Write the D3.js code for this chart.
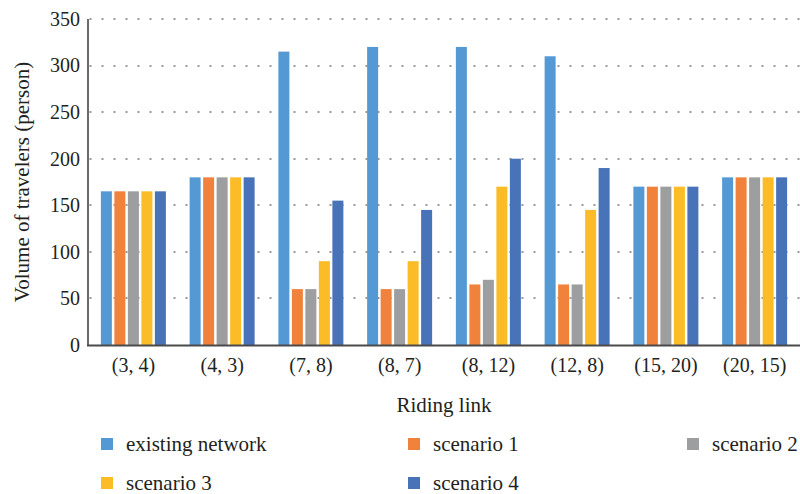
<!DOCTYPE html>
<html>
<head>
<meta charset="utf-8">
<script src="https://cdn.jsdelivr.net/npm/d3@7"></script>
<style>
  html, body { margin: 0; padding: 0; background: #fff; }
</style>
</head>
<body>
<svg id="chart" width="800" height="494"></svg>
<script>
// Riding links on the x axis
const links = ["(3, 4)", "(4, 3)", "(7, 8)", "(8, 7)", "(8, 12)", "(12, 8)", "(15, 20)", "(20, 15)"];

// Series names
const seriesNames = ["existing network", "scenario 1", "scenario 2", "scenario 3", "scenario 4"];

// Volume of travelers per link, one array per series
const existingNetwork = [165, 180, 315, 320, 320, 310, 170, 180];
const scenario1 = [165, 180, 60, 60, 65, 65, 170, 180];
const scenario2 = [165, 180, 60, 60, 70, 65, 170, 180];
const scenario3 = [165, 180, 90, 90, 170, 145, 170, 180];
const scenario4 = [165, 180, 155, 145, 200, 190, 170, 180];

// Y axis ticks
const yTicks = [0, 50, 100, 150, 200, 250, 300, 350];

const seriesValues = [existingNetwork, scenario1, scenario2, scenario3, scenario4];
const colors = ["#5599d4", "#f0823c", "#9d9e9f", "#fbbc27", "#4873b8"];

const FONT = "Liberation Serif";
const TEXT_COLOR = "#231f20";

const svg = d3.select("#chart").attr("font-family", FONT);
const plotLeft = 89, plotRight = 799, plotTop = 19, plotBottom = 345;

const x0 = d3.scaleBand().domain(links).range([plotLeft, plotRight]).padding(0);
const groupW = 65;
const x1 = d3.scaleBand().domain(seriesNames)
  .range([(x0.bandwidth() - groupW) / 2, (x0.bandwidth() + groupW) / 2])
  .paddingInner(0.185).paddingOuter(0);
const y = d3.scaleLinear().domain([0, 350]).range([plotBottom, plotTop]);
const color = d3.scaleOrdinal().domain(seriesNames).range(colors);

// dotted gridlines
svg.append("g").selectAll("line")
  .data(yTicks.filter(d => d > 0))
  .join("line")
  .attr("x1", plotLeft + 0.5).attr("x2", plotRight + 1)
  .attr("y1", d => Math.round(y(d)))
  .attr("y2", d => Math.round(y(d)))
  .attr("stroke", "#9a9a9a")
  .attr("stroke-width", 2)
  .attr("stroke-dasharray", "2,10");

// bars
const groups = svg.append("g").selectAll("g")
  .data(links)
  .join("g")
  .attr("transform", d => `translate(${x0(d)},0)`);

groups.selectAll("rect")
  .data((d, i) => seriesNames.map((s, j) => ({ s, v: seriesValues[j][i] })))
  .join("rect")
  .attr("x", d => x1(d.s))
  .attr("width", x1.bandwidth())
  .attr("y", d => y(d.v))
  .attr("height", d => y(0) - y(d.v))
  .attr("fill", d => color(d.s));

// y axis line
svg.append("line")
  .attr("x1", 88).attr("x2", 88)
  .attr("y1", plotTop).attr("y2", plotBottom + 1)
  .attr("stroke", "#6b6b6b").attr("stroke-width", 2);

// baseline
svg.append("line")
  .attr("x1", 87).attr("x2", plotRight + 1)
  .attr("y1", plotBottom + 0.5).attr("y2", plotBottom + 0.5)
  .attr("stroke", "#4a4a4a").attr("stroke-width", 2);

// y axis tick labels
const yAxis = d3.axisLeft(y).tickValues(yTicks).tickSize(0).tickPadding(8);
const gy = svg.append("g").attr("transform", `translate(${plotLeft - 1},0)`).call(yAxis);
gy.attr("font-family", FONT).attr("font-size", 20);
gy.select(".domain").remove();
gy.selectAll("text").attr("font-family", FONT).attr("fill", TEXT_COLOR);

// x axis tick labels
const xAxis = d3.axisBottom(x0).tickSize(0).tickPadding(13);
const gx = svg.append("g").attr("transform", `translate(0,${plotBottom})`).call(xAxis);
gx.attr("font-family", FONT).attr("font-size", 20);
gx.select(".domain").remove();
gx.selectAll("text").attr("font-family", FONT).attr("fill", TEXT_COLOR);

// axis titles
svg.append("text")
  .attr("x", (plotLeft + plotRight) / 2).attr("y", 412)
  .attr("text-anchor", "middle")
  .attr("font-family", FONT).attr("font-size", 21).attr("fill", TEXT_COLOR)
  .text("Riding link");

svg.append("text")
  .attr("transform", `translate(29,${(plotTop + plotBottom) / 2}) rotate(-90)`)
  .attr("text-anchor", "middle")
  .attr("font-family", FONT).attr("font-size", 21).attr("fill", TEXT_COLOR)
  .text("Volume of travelers (person)");

// legend
const legendPos = [
  { x: 101, y: 444 }, { x: 408, y: 444 }, { x: 687, y: 444 },
  { x: 101, y: 483 }, { x: 408, y: 483 }
];
const legend = svg.append("g").selectAll("g")
  .data(seriesNames)
  .join("g")
  .attr("transform", (d, i) => `translate(${legendPos[i].x},${legendPos[i].y})`);
legend.append("rect")
  .attr("x", 0).attr("y", -6).attr("width", 12).attr("height", 12)
  .attr("fill", d => color(d));
legend.append("text")
  .attr("x", 25).attr("y", 7)
  .attr("font-family", FONT).attr("font-size", 21).attr("fill", TEXT_COLOR)
  .text(d => d);
</script>
</body>
</html>
